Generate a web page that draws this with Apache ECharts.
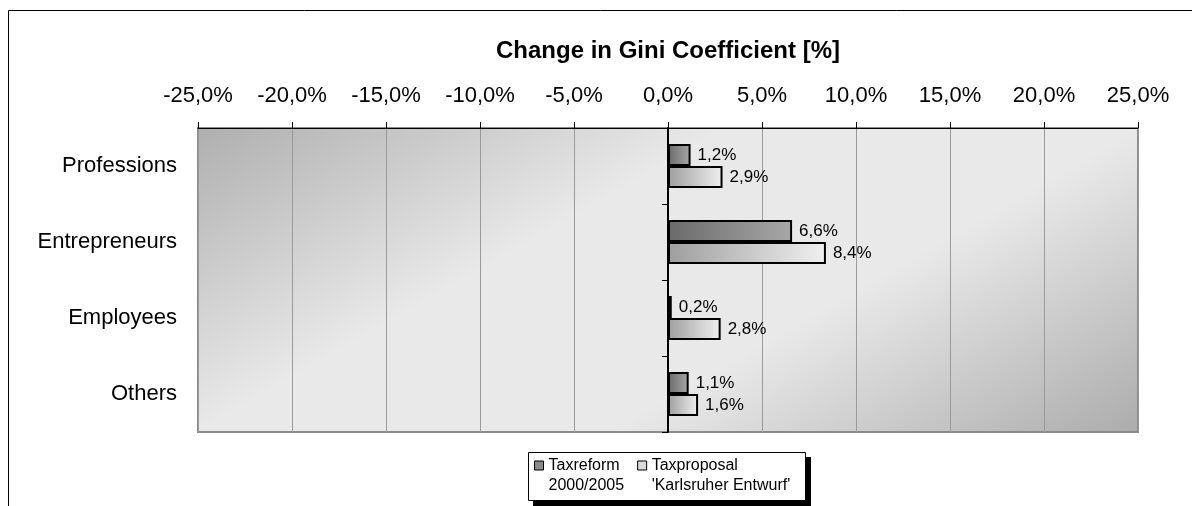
<!DOCTYPE html>
<html><head><meta charset="utf-8">
<script src="https://cdn.jsdelivr.net/npm/echarts@6/dist/echarts.min.js"></script>
<style>html,body{margin:0;padding:0;background:#fff}#c{width:1192px;height:506px}</style>
</head><body><div id="c"></div><script>
const categories = ['Professions', 'Entrepreneurs', 'Employees', 'Others'];
const taxreform = [1.2, 6.6, 0.2, 1.1];
const taxproposal = [2.9, 8.4, 2.8, 1.6];
const seriesNames = ['Taxreform\n2000/2005', "Taxproposal\n'Karlsruher Entwurf'"];
const axisTitle = 'Change in Gini Coefficient [%]';
const axisMin = -25, axisMax = 25, axisStep = 5;

const FONT = "'Liberation Sans', Arial, sans-serif";
const fmt = v => Number(v).toFixed(1).replace('.', ',') + '%';
const chart = echarts.init(document.getElementById('c'));
const grad = (a, b) => ({type: 'linear', x: 0, y: 0, x2: 1, y2: 0, colorStops: [{offset: 0, color: a}, {offset: 1, color: b}]});

chart.setOption({
  animation: false,
  textStyle: {fontFamily: FONT},
  graphic: [
    {type: 'rect', z: -10, shape: {x: 8.5, y: 10.5, width: 1300, height: 700}, style: {fill: 'none', stroke: '#000', lineWidth: 1}},
    {type: 'rect', z: 1, shape: {x: 533, y: 457, width: 278, height: 49}, style: {fill: '#000'}},
    {type: 'rect', z: 2, shape: {x: 528.5, y: 452.5, width: 277, height: 48}, style: {fill: '#fff', stroke: '#000', lineWidth: 1}}
  ],
  grid: {
    left: 198, right: 54, top: 128, bottom: 74, show: true,
    borderColor: '#8a8a8a', borderWidth: 2,
    backgroundColor: {type: 'linear', global: true, x: 487, y: -37, x2: 849, y2: 597, colorStops: [
      {offset: 0, color: '#afafaf'}, {offset: 0.36, color: '#e9e9e9'}, {offset: 0.64, color: '#e9e9e9'}, {offset: 1, color: '#acacac'}]}
  },
  legend: {
    left: 534, top: 435.5, orient: 'horizontal', z: 10,
    padding: 0, itemGap: 13, itemWidth: 9, itemHeight: 9, icon: 'rect',
    formatter: name => '\n' + name,
    textStyle: {fontSize: 16, lineHeight: 20, color: '#000', fontFamily: FONT},
    data: [
      {name: seriesNames[0], itemStyle: {color: '#8a8a8a', borderColor: '#000', borderWidth: 1}},
      {name: seriesNames[1], itemStyle: {color: '#dadada', borderColor: '#000', borderWidth: 1}}
    ]
  },
  xAxis: {
    type: 'value', position: 'top', min: axisMin, max: axisMax, interval: axisStep,
    name: axisTitle, nameLocation: 'middle', nameGap: 65,
    nameTextStyle: {fontSize: 24, fontWeight: 'bold', color: '#000', fontFamily: FONT},
    axisLine: {show: true, lineStyle: {color: '#000', width: 1}},
    axisTick: {show: true, length: 6, lineStyle: {color: '#000'}},
    axisLabel: {fontSize: 22, color: '#000', margin: 21, formatter: fmt, fontFamily: FONT},
    splitLine: {show: true, lineStyle: {color: '#9a9a9a', width: 1}}
  },
  yAxis: [{
    type: 'category', data: categories, inverse: true, position: 'left',
    axisLine: {show: false, onZero: false}, axisTick: {show: false},
    axisLabel: {fontSize: 22, color: '#000', margin: 21, padding: [4, 0, 0, 0], fontFamily: FONT}
  }, {
    type: 'category', data: categories, inverse: true, position: 'left',
    axisLine: {show: true, onZero: true, lineStyle: {color: '#000', width: 2}},
    axisTick: {show: true, length: 6, lineStyle: {color: '#000'}},
    axisLabel: {show: false}
  }],
  series: [{
    name: seriesNames[0], type: 'bar', data: taxreform, barWidth: 22, barGap: '0%',
    itemStyle: {color: grad('#6a6a6a', '#a8a8a8'), borderColor: '#000', borderWidth: 2},
    label: {show: true, position: 'right', distance: 7, fontSize: 17, color: '#000', formatter: p => fmt(p.value), fontFamily: FONT}
  }, {
    name: seriesNames[1], type: 'bar', data: taxproposal, barWidth: 22, barGap: '0%',
    itemStyle: {color: grad('#9e9e9e', '#f0f0f0'), borderColor: '#000', borderWidth: 2},
    label: {show: true, position: 'right', distance: 7, fontSize: 17, color: '#000', formatter: p => fmt(p.value), fontFamily: FONT}
  }]
});
</script></body></html>
